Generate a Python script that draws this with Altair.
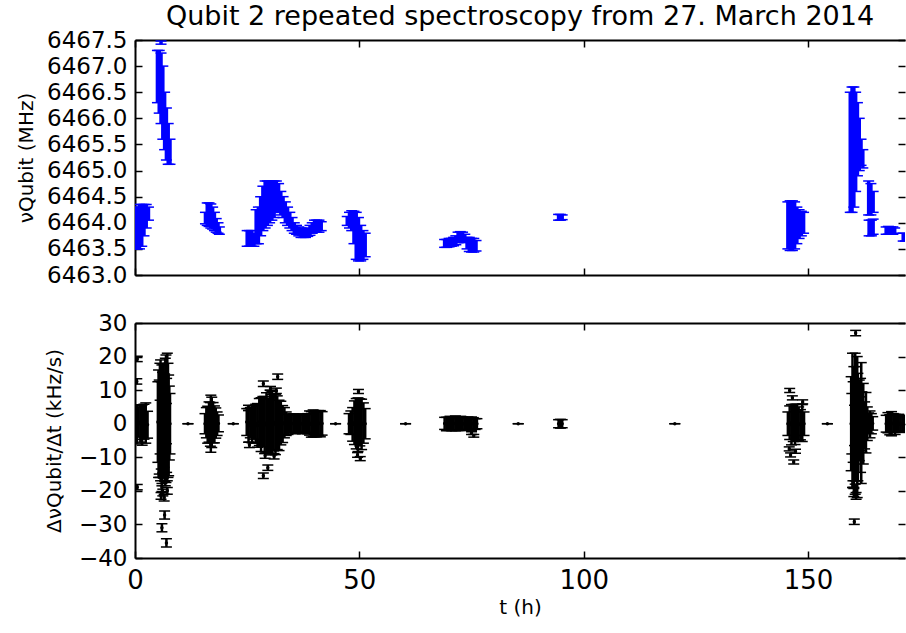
import altair as alt
import pandas as pd

TITLE = "Qubit 2 repeated spectroscopy from 27. March 2014"
FONT = "DejaVu Sans"

x_ticks = [0, 50, 100, 150]
top_ticks = [6463.0, 6463.5, 6464.0, 6464.5, 6465.0, 6465.5, 6466.0, 6466.5, 6467.0, 6467.5]
bot_ticks = [-40, -30, -20, -10, 0, 10, 20, 30]

# ---- top panel: qubit frequency, each point given by its lower / upper error-bar end (MHz)
top_t = [0, 0.5, 1, 1.5, 2, 2.5, 3,
         5.0, 5.4, 5.8, 6.2, 6.6, 7.0, 7.4, 7.8, 5.8,
         15.7, 16.1, 16.5, 16.9, 17.3, 17.7, 18.1, 18.5, 18.8,
         25.0, 25.5, 26.0, 26.5, 27.0, 27.5, 28.0, 28.5, 29.0, 29.5, 30.0, 30.5, 31.0, 31.5, 32.0,
         32.5, 33.0, 33.5, 34.0, 34.5, 35.0, 35.5, 36.0, 36.5, 37.0, 37.5, 38.0, 38.5, 39.0, 39.5,
         40.0, 40.5, 41.0, 41.5,
         47.3, 47.8, 48.3, 48.8, 49.3, 49.8, 50.3, 50.8, 51.3,
         69.0, 69.5, 70.0, 70.5, 71.0, 71.5, 72.0, 72.5, 73.0, 73.5, 74.0, 74.5, 75.0, 75.5, 76.0,
         94.4, 94.8, 95.2,
         145.5, 146.0, 146.5, 147.0, 147.5, 148.0, 148.5, 149.0,
         159.4, 159.8, 160.2, 160.6, 161.0, 161.4, 161.8, 162.2, 163.5, 164.0, 164.5, 163.6, 164.1, 164.5,
         167.4, 167.9, 168.4, 168.9, 169.3, 171.2, 171.7, 172.2]
top_lo = [6463.5, 6463.5, 6463.5, 6463.55, 6463.75, 6463.9, 6464.05,
          6466.3, 6466.1, 6465.9, 6465.6, 6465.4, 6465.2, 6465.12, 6465.12, 6467.42,
          6463.98, 6463.95, 6463.93, 6463.9, 6463.88, 6463.85, 6463.82, 6463.8, 6463.78,
          6463.55, 6463.55, 6463.55, 6463.55, 6463.6, 6463.6, 6463.75, 6463.85, 6463.9, 6463.95, 6464.0, 6464.05, 6464.1, 6464.2, 6464.2,
          6464.15, 6464.1, 6464.0, 6463.95, 6463.9, 6463.85, 6463.8, 6463.78, 6463.75, 6463.72, 6463.72, 6463.72, 6463.74, 6463.76, 6463.8,
          6463.82, 6463.82, 6463.82, 6463.85,
          6463.95, 6463.9, 6463.85, 6463.6, 6463.3, 6463.27, 6463.27, 6463.3, 6463.35,
          6463.53, 6463.53, 6463.54, 6463.55, 6463.56, 6463.58, 6463.62, 6463.63, 6463.63, 6463.62, 6463.5, 6463.45, 6463.44, 6463.44, 6463.46,
          6464.05, 6464.05, 6464.06,
          6463.5, 6463.47, 6463.47, 6463.5, 6463.6, 6463.7, 6463.75, 6463.8,
          6464.2, 6464.2, 6464.3, 6464.6, 6464.9, 6465.0, 6465.1, 6465.05, 6464.15, 6464.15, 6464.2, 6463.75, 6463.75, 6463.78,
          6463.78, 6463.78, 6463.79, 6463.78, 6463.8, 6463.65, 6463.65, 6463.66]
top_hi = [6464.3, 6464.3, 6464.35, 6464.35, 6464.35, 6464.35, 6464.3,
          6467.3, 6467.3, 6467.25, 6467.0, 6466.5, 6466.2, 6465.9, 6465.6, 6467.48,
          6464.2, 6464.38, 6464.38, 6464.36, 6464.3, 6464.2, 6464.08, 6464.0, 6463.92,
          6463.85, 6463.85, 6463.85, 6463.8, 6464.25, 6464.3, 6464.5, 6464.7, 6464.8, 6464.8, 6464.8, 6464.8, 6464.8, 6464.8, 6464.75,
          6464.6, 6464.5, 6464.4, 6464.3, 6464.2, 6464.1, 6464.0, 6463.95, 6463.92, 6463.9, 6463.88, 6463.88, 6463.9, 6463.95, 6464.0,
          6464.05, 6464.05, 6464.05, 6464.02,
          6464.12, 6464.2, 6464.23, 6464.22, 6464.2, 6464.1, 6463.95, 6463.85, 6463.8,
          6463.68, 6463.68, 6463.7, 6463.7, 6463.72, 6463.75, 6463.82, 6463.83, 6463.82, 6463.78, 6463.72, 6463.72, 6463.7, 6463.7, 6463.66,
          6464.16, 6464.16, 6464.15,
          6464.4, 6464.42, 6464.42, 6464.4, 6464.3, 6464.25, 6464.22, 6464.2,
          6466.5, 6466.6, 6466.6, 6466.5, 6466.3, 6466.0, 6465.6, 6465.4, 6464.8, 6464.75, 6464.6, 6464.05, 6464.05, 6464.07,
          6463.92, 6463.93, 6463.92, 6463.92, 6463.9, 6463.8, 6463.8, 6463.79]

# ---- bottom panel: frequency drift rate (kHz/s), value and error
bot_t = [0.0, 0.4, 0.8, 1.2, 1.6, 2.0, 2.4, 2.8, 0.5, 0.4, 0.5,
         5.1, 5.25, 5.4, 5.55, 5.7, 5.85, 6.0, 6.15, 6.3, 6.45, 6.6, 6.75, 6.9, 7.05, 7.2, 7.35, 7.5, 7.65, 7.8, 5.6, 7.0, 6.4,
         6.0, 6.2, 6.5, 5.8, 7.2, 6.6, 6.0, 7.0,
         11.8, 21.9, 44.7, 60.3, 85.4, 120.3, 154.3,
         15.6, 15.9, 16.2, 16.5, 16.8, 16.9, 17.1, 17.4, 17.7, 18.0, 18.3, 18.6,
         24.9, 25.3, 25.7, 26.1, 26.5, 26.9, 27.3, 27.7, 28.1, 28.5, 28.9, 29.3, 29.7, 30.1, 30.5, 30.9, 31.3, 31.7, 32.1, 32.5,
         32.9, 33.3, 33.7, 34.1, 34.5, 34.9, 35.3, 35.7, 36.1, 36.5, 36.9, 37.3, 37.7, 38.1, 38.5, 38.9, 39.3, 39.7, 40.1, 40.5,
         40.9, 41.3, 41.7,
         28.6, 31.8, 29.6, 28.6, 25.5, 25.3, 29.0, 30.5, 31.5, 31.0, 30.2,
         47.7, 48.1, 48.5, 48.9, 49.3, 49.7, 50.1, 50.5, 50.9, 51.3, 49.8, 49.6, 50.2,
         69.0, 69.4, 69.8, 70.2, 70.6, 71.0, 71.4, 71.8, 72.2, 72.6, 73.0, 73.4, 73.8, 74.2, 74.6, 75.0, 75.4, 75.8, 76.2, 75.5, 75.0,
         94.4, 94.8, 95.2,
         145.5, 145.9, 146.3, 146.7, 147.1, 147.5, 147.9, 148.3, 148.7, 149.1,
         145.9, 146.5, 148.8, 146.1, 146.8, 145.8, 147.2,
         159.6, 159.75, 159.9, 160.05, 160.2, 160.35, 160.5, 160.65, 160.8, 160.95, 161.1, 161.25, 161.4, 161.55, 161.7, 161.85,
         162.0, 162.3, 162.6, 162.9, 163.2, 163.5, 163.8, 164.1, 164.4,
         160.6, 160.3, 160.2, 160.5, 160.0, 160.7,
         167.4, 167.8, 168.2, 168.6, 169.0, 169.4, 169.8, 170.2, 170.6, 171.0, 171.4, 171.8]
bot_v = [0.3, -0.2, 0.5, 0.0, -0.4, 0.6, 0.2, -0.3, 19.3, 12.6, -18.9,
         0.5, 0.0, -1.0, 1.0, 1.0, -0.5, -0.5, 0.3, 0.8, -1.0, -1.2, 0.5, 1.5, -0.5, 2.0, 1.0, -0.5, 0.2, 0.0, -1.0, 0.0, 0.5,
         -19.0, -20.5, -22.0, -21.5, -20.0, -27.2, -31.0, -35.5,
         0, 0, 0, 0, 0, 0, 0,
         0.0, 0.3, -0.3, 0.5, -0.2, 0.0, 0.4, 0.3, -0.2, 0.2, 0.0, 0.1,
         0.5, -0.5, 0.3, -0.2, 0.4, 0.0, -0.5, 0.5, -0.3, 0.6, -0.4, 0.2, -0.6, 0.5, -0.3, 0.4, -0.2, 0.3, -0.5, 0.2,
         -0.1, 0.3, 0.0, -0.2, 0.1, 0.0, 0.1, -0.1, 0.1, 0.0, 0.1, -0.1, 0.0, 0.1, 0.0, 0.2, -0.2, 0.1, 0.0, -0.1,
         0.2, 0.0, 0.1,
         11.9, 14.0, -13.1, -15.5, -6.3, 4.7, -9.5, 8.8, 9.8, -9.7, 10.5,
         0.0, 0.3, -0.2, 0.3, 0.0, -0.3, 0.4, -0.2, 0.2, 0.0, 9.6, -9.3, -10.4,
         0.1, -0.1, 0.0, 0.1, -0.1, 0.0, 0.1, 0.0, -0.1, 0.1, 0.0, -0.1, 0.0, 0.1, -0.1, 0.0, 0.1, -0.1, 0.0, -3.6, -2.8,
         0.0, 0.0, 0.0,
         0.0, 0.3, -0.3, 0.2, -0.2, 0.3, 0.0, -0.3, 0.2, 0.0,
         9.9, 7.7, 6.5, -9.3, -11.4, -7.5, -8.2,
         0.0, 0.0, 1.0, 0.5, -1.0, -0.5, 2.0, 1.0, 0.0, -1.0, -1.0, 0.5, 1.0, 0.0, -0.5, 0.2,
         0.5, 0.0, -0.5, 0.3, 0.0, 0.2, -0.2, 0.0, 0.1,
         27.0, -29.2, -20.5, -19.5, -18.0, -21.5,
         0.0, 0.3, -0.3, 0.0, 0.2, -0.2, 0.0, 0.2, 0.0, -0.1, 0.1, 0.0]
bot_e = [5.0, 5.8, 4.5, 5.5, 6.0, 5.2, 6.0, 4.0, 0.8, 0.8, 0.8,
         12, 16, 14, 17, 18, 13, 18, 15, 17, 12, 16, 19, 19, 14, 19, 17, 15, 11, 9, 8, 6, 4,
         1.2, 1.0, 1.0, 1.0, 1.0, 1.2, 1.2, 1.2,
         0, 0, 0, 0, 0, 0, 0,
         3.0, 4.5, 5.5, 6.0, 6.5, 8.5, 7.5, 6.0, 5.5, 4.5, 3.5, 2.5,
         4.0, 5.0, 4.5, 5.5, 5.0, 5.8, 6.5, 7.0, 8.0, 7.5, 8.5, 9.0, 8.0, 9.5, 9.0, 8.5, 9.0, 8.0, 7.5, 6.5,
         5.5, 4.5, 3.5, 3.0, 2.8, 2.7, 2.8, 2.9, 2.7, 2.8, 2.7, 2.9, 2.8, 2.7, 3.0, 3.6, 3.8, 4.0, 3.9, 3.8,
         3.7, 3.9, 3.5,
         0.8, 0.8, 0.8, 0.8, 0.8, 0.8, 0.8, 0.8, 0.8, 0.8, 0.6,
         3.0, 3.5, 5.0, 6.5, 7.5, 8.0, 7.0, 7.5, 6.0, 4.5, 0.6, 0.7, 0.6,
         1.8, 2.0, 1.9, 2.1, 2.0, 1.8, 2.2, 2.0, 1.9, 2.1, 2.0, 1.8, 1.7, 1.9, 1.8, 2.0, 1.7, 1.6, 1.5, 0.4, 0.4,
         1.2, 1.3, 1.2,
         3.5, 5.0, 6.0, 5.5, 6.0, 5.5, 5.0, 4.5, 5.5, 3.5,
         0.6, 0.6, 0.6, 0.6, 0.6, 0.6, 0.6,
         14, 9, 20, 12, 18, 6, 19, 10, 17, 21, 16, 11, 12, 8, 14, 18,
         9, 12, 7, 9, 5, 3, 4, 3, 2,
         0.8, 0.8, 1.2, 1.5, 1.0, 1.0,
         2.5, 3.0, 3.0, 3.6, 2.8, 3.0, 2.5, 2.6, 2.3, 2.5, 2.4, 2.2]

top_df = pd.DataFrame({"t": top_t, "lo": top_lo, "hi": top_hi})
bot_df = pd.DataFrame({"t": bot_t, "v": bot_v, "e": bot_e})
bot_df["lo"] = bot_df["v"] - bot_df["e"]
bot_df["hi"] = bot_df["v"] + bot_df["e"]

W, H = 770, 235
xs = alt.Scale(domain=[0, 171.6], nice=False, zero=False)


def tick_axis(orient, offset, values, domain):
    return alt.Axis(orient=orient, offset=offset, values=values, labels=False, domain=domain,
                    domainColor="black", domainWidth=2, ticks=True, tickSize=7, tickWidth=1.5,
                    tickColor="black", grid=False, title=None)


def panel(df, ydom, yticks, yfmt, ytitle, color, show_x, rule_w, dots, title_pad):
    ys = alt.Scale(domain=ydom, nice=False, zero=False)
    xax = alt.Axis(values=x_ticks, labels=show_x, labelFlush=False, ticks=False, domain=True,
                   domainColor="black", domainWidth=2, grid=False, labelFontSize=26,
                   labelFont=FONT, labelColor="black", labelPadding=9,
                   title=("t (h)" if show_x else None), titleFont=FONT, titleFontSize=20,
                   titleFontWeight="normal", titleColor="black", titlePadding=4)
    yax = alt.Axis(values=yticks, format=yfmt, labelFlush=False, ticks=False, domain=True,
                   domainColor="black", domainWidth=2, grid=False, labelFontSize=23,
                   labelFont=FONT, labelColor="black", labelPadding=8, title=ytitle,
                   titleFont=FONT, titleFontSize=20, titleFontWeight="normal",
                   titleColor="black", titlePadding=title_pad)
    X = alt.X("t:Q", scale=xs, axis=xax)
    rule = alt.Chart(df).mark_rule(color=color, strokeWidth=rule_w, clip=True).encode(
        x=X, y=alt.Y("lo:Q", scale=ys, axis=yax), y2="hi:Q")
    cap_lo = alt.Chart(df).mark_tick(color=color, size=11, thickness=1.5, orient="horizontal",
                                     clip=True, opacity=1).encode(
        x=X, y=alt.Y("lo:Q", scale=ys, axis=yax))
    cap_hi = alt.Chart(df).mark_tick(color=color, size=11, thickness=1.5, orient="horizontal",
                                     clip=True, opacity=1).encode(
        x=X, y=alt.Y("hi:Q", scale=ys, axis=yax))
    parts = [rule, cap_lo, cap_hi]
    if dots:
        parts.append(alt.Chart(df).mark_circle(color=color, size=12, opacity=1, clip=True).encode(
            x=X, y=alt.Y("v:Q", scale=ys, axis=yax)))
    data_layer = alt.layer(*parts)
    ticks_a = alt.Chart(df).mark_point(opacity=0, size=1, clip=True).encode(
        x=alt.X("t:Q", scale=xs, axis=tick_axis("top", -H, x_ticks, False)),
        y=alt.Y("lo:Q", scale=ys, axis=tick_axis("right", -W, yticks, False)))
    ticks_b = alt.Chart(df).mark_point(opacity=0, size=1, clip=True).encode(
        x=alt.X("t:Q", scale=xs, axis=tick_axis("bottom", -H, x_ticks, True)),
        y=alt.Y("lo:Q", scale=ys, axis=tick_axis("left", -W, yticks, False)))
    return alt.layer(data_layer, ticks_a, ticks_b).resolve_scale(
        x="independent", y="independent").properties(width=W, height=H)


top = panel(top_df, [6463.0, 6467.5], top_ticks, ".1f", "νQubit (MHz)", "#0000ff",
            False, 3.5, False, 10).properties(
    title=alt.Title(TITLE, fontSize=27, font=FONT, fontWeight="normal", color="black",
                    anchor="middle", frame="group", offset=-2))
bottom = panel(bot_df, [-40, 30], bot_ticks, "d", "ΔνQubit/Δt (kHz/s)", "black",
               True, 2.5, True, 14)

chart = alt.vconcat(top, bottom, spacing=25).properties(
    padding={"left": 16, "top": 3, "right": 0, "bottom": 0},
    background="white").configure_view(stroke=None)

chart.save("out.html", embed_options={"renderer": "svg", "actions": False})
